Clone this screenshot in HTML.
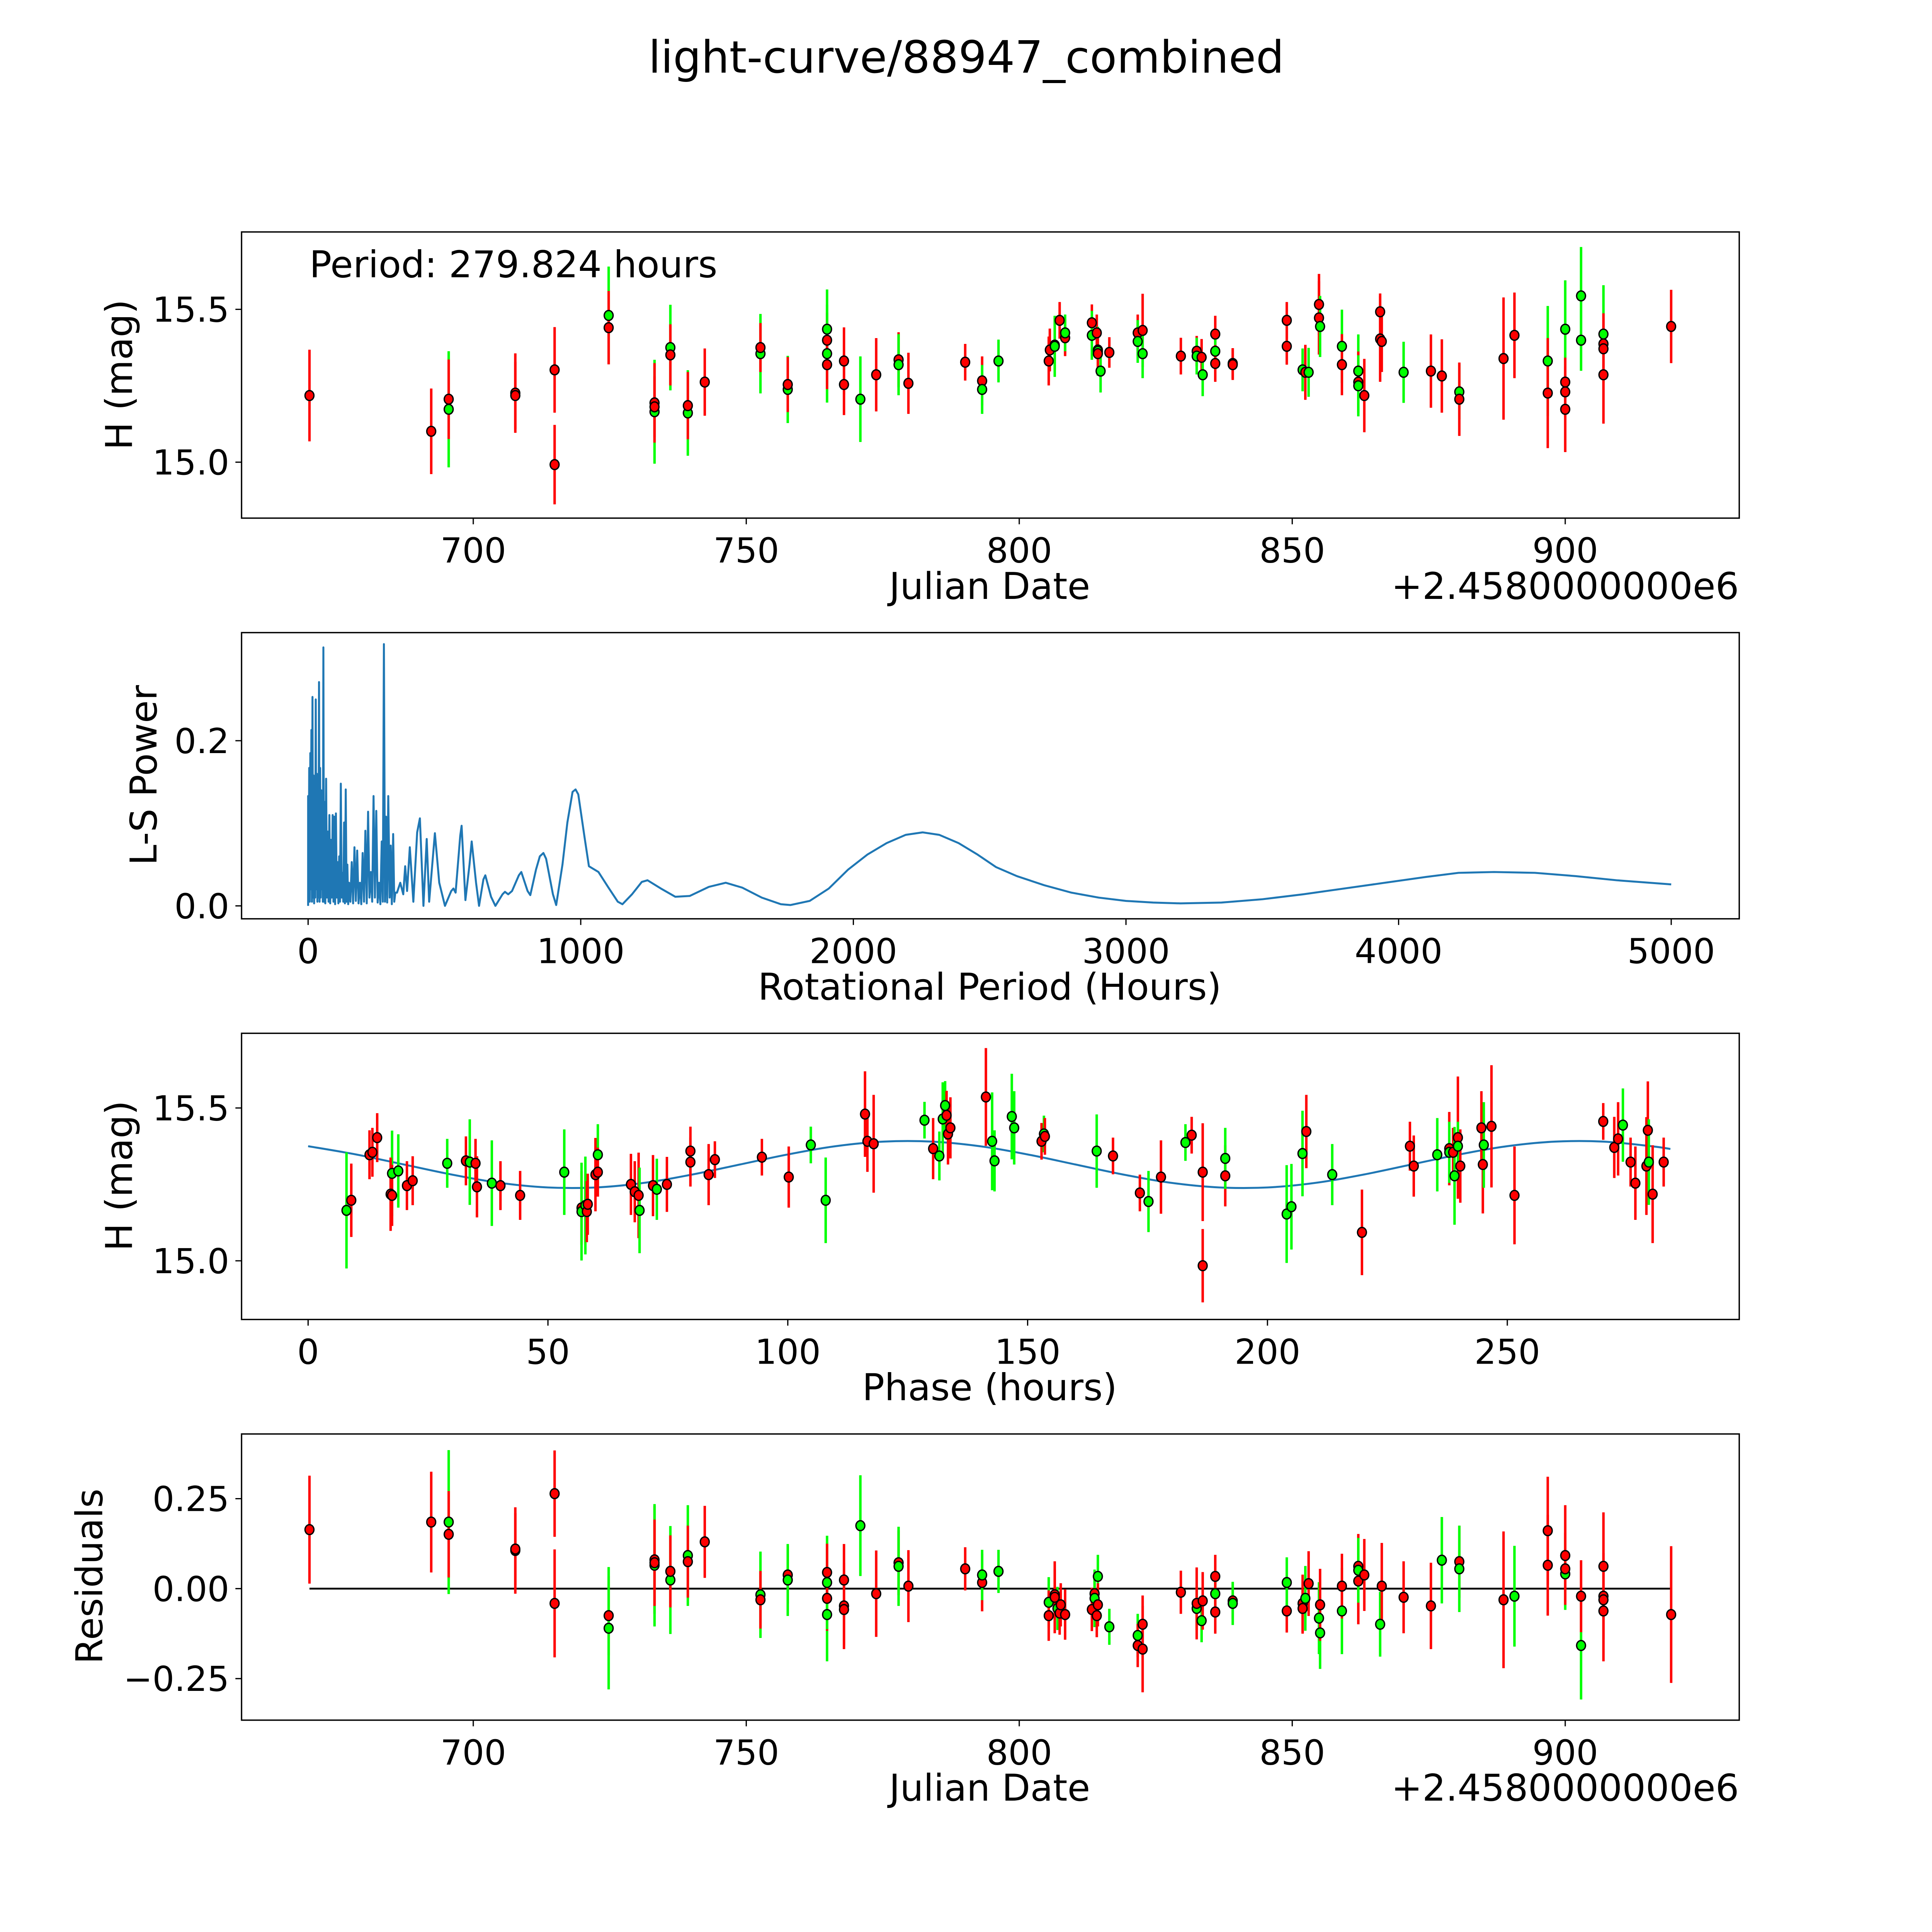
<!DOCTYPE html>
<html><head><meta charset="utf-8"><style>
html,body{margin:0;padding:0;background:#fff;overflow:hidden;width:5400px;height:5400px;}
svg{display:block;font-family:"DejaVu Sans","Liberation Sans",sans-serif;}
</style></head><body>
<svg id="fig" xmlns="http://www.w3.org/2000/svg" width="5400" height="5400" viewBox="0 0 1693 1693">
<rect x="0" y="0" width="1693" height="1693" fill="#fff"/>
<text x="784" y="59" font-size="36" text-anchor="middle">light-curve/88947_combined</text>
<g id="layer"></g>
</svg>
<script>
// ---- Panel 1 data: Julian date offset (+2458000), H mag, error, filter ----
const p1Dates=[670.0,692.3,695.5,695.5,707.7,707.7,714.9,714.9,724.8,724.8,733.2,733.2,733.2,736.1,736.1,739.3,739.3,742.4,752.6,752.6,757.6,757.6,764.8,764.8,764.8,764.8,767.9,767.9,770.9,773.8,777.9,777.9,779.7,790.1,793.2,793.2,796.2,805.4,805.6,806.5,806.5,807.4,808.4,808.4,813.3,813.3,814.2,814.4,814.4,814.4,814.9,816.5,821.7,821.7,822.6,822.6,829.6,832.5,832.5,833.4,833.6,835.9,835.9,835.9,839.1,839.1,849.0,849.0,851.9,852.4,853.0,854.9,854.9,855.1,859.1,859.1,862.1,862.1,862.1,863.2,866.1,866.1,866.4,870.4,875.4,877.4,880.6,880.6,888.7,890.7,896.8,896.8,900.0,900.0,900.0,900.0,902.9,902.9,907.0,907.0,907.0,907.0,919.4];
const p1Mags=[15.218,15.101,15.173,15.206,15.226,15.218,15.302,14.992,15.480,15.440,15.165,15.194,15.181,15.375,15.351,15.161,15.185,15.262,15.355,15.375,15.238,15.254,15.435,15.399,15.355,15.319,15.331,15.254,15.206,15.286,15.335,15.319,15.258,15.327,15.266,15.238,15.331,15.331,15.367,15.383,15.379,15.464,15.407,15.423,15.456,15.415,15.423,15.367,15.363,15.355,15.298,15.359,15.423,15.395,15.431,15.355,15.347,15.363,15.347,15.343,15.286,15.419,15.363,15.323,15.323,15.319,15.464,15.379,15.302,15.294,15.294,15.516,15.472,15.444,15.379,15.319,15.298,15.262,15.250,15.218,15.403,15.492,15.395,15.294,15.298,15.282,15.230,15.206,15.339,15.415,15.331,15.226,15.435,15.262,15.230,15.173,15.399,15.544,15.419,15.387,15.371,15.286,15.444];
const p1Errs=[.15,.14,.19,.13,.13,.11,.14,.13,.16,.12,.17,.13,.10,.14,.10,.14,.11,.11,.13,.08,.11,.09,.13,.09,.16,.08,.11,.10,.14,.12,.09,.10,.10,.06,.08,.08,.07,.08,.07,.08,.10,.06,.06,.06,.06,.08,.06,.06,.08,.06,.07,.05,.06,.07,.12,.08,.06,.05,.06,.06,.07,.06,.06,.06,.05,.05,.06,.06,.07,.09,.08,.10,.12,.10,.12,.10,.12,.10,.10,.12,.14,.06,.10,.10,.12,.12,.09,.12,.20,.14,.18,.18,.16,.08,.08,.14,.10,.16,.16,.10,.10,.16,.12];
const p1Filters="rrgrrrrrgrgrrgrgrrgrgrgrgrrrgrrgrrrggrrrgrrgrgrrgrgrrgrgrrgrgrgrrrrrgrgrrggrgrgrrrrgrrgrrrgrgrrrgggrrrrgr";
// ---- Panel 2 data: Lomb-Scargle periodogram ----
const lsPeriods=[0,2,4,6,8,10,12,14,16,18,20,22,24,26,28,30,32,34,36,38,40,42,44,46,48,50,52,54,56,58,60,63,66,69,72,75,78,81,84,87,90,93,96,99,102,105,108,111,114,117,120,123,126,129,132,135,138,141,144,147,150,155,160,165,170,175,180,185,190,195,200,205,210,215,220,225,230,235,240,245,250,255,260,265,270,274,278,282,286,290,294,299,303,307,312,316,320,326,338,349,356,363,373,386,400,410,423,435,444,465,481,502,525,533,541,558,563,577,592,600,616,627,643,650,671,687,713,722,734,748,773,782,805,815,836,850,863,873,898,910,933,951,970,981,991,1014,1030,1065,1100,1136,1153,1188,1224,1245,1294,1347,1400,1470,1532,1593,1664,1734,1769,1840,1910,1981,2051,2122,2192,2254,2315,2386,2456,2523,2600,2700,2800,2900,3000,3100,3200,3350,3500,3650,3800,3950,4100,4220,4350,4500,4650,4800,5000];
const lsPowers=[0.133,0.010,0.167,0.005,0.185,0.020,0.213,0.005,0.253,0.010,0.158,0.003,0.150,0.010,0.250,0.020,0.160,0.005,0.120,0.010,0.271,0.005,0.167,0.010,0.140,0.020,0.100,0.005,0.313,0.005,0.126,0.003,0.154,0.010,0.090,0.005,0.110,0.003,0.080,0.010,0.110,0.005,0.108,0.002,0.112,0.010,0.053,0.003,0.060,0.005,0.148,0.010,0.040,0.005,0.101,0.003,0.141,0.005,0.050,0.002,0.028,0.005,0.053,0.003,0.071,0.006,0.067,0.003,0.028,0.002,0.064,0.005,0.091,0.003,0.114,0.010,0.041,0.005,0.133,0.010,0.115,0.004,0.028,0.002,0.078,0.005,0.317,0.005,0.108,0.004,0.133,0.010,0.073,0.002,0.087,0.005,0.016,0.016,0.028,0.014,0.048,0.018,0.071,0.005,0.089,0.106,0.000,0.081,0.005,0.088,0.028,0.000,0.018,0.021,0.016,0.085,0.097,0.007,0.050,0.078,0.028,0.000,0.032,0.037,0.011,0.000,0.014,0.017,0.014,0.018,0.037,0.041,0.018,0.013,0.044,0.060,0.064,0.057,0.014,0.001,0.050,0.101,0.138,0.141,0.135,0.083,0.048,0.041,0.023,0.005,0.002,0.014,0.029,0.031,0.021,0.011,0.012,0.023,0.028,0.022,0.010,0.002,0.001,0.006,0.021,0.044,0.062,0.076,0.086,0.089,0.086,0.076,0.062,0.047,0.036,0.025,0.016,0.010,0.006,0.004,0.003,0.004,0.008,0.014,0.021,0.028,0.035,0.040,0.041,0.040,0.036,0.031,0.026,0.020];
// ---- Panel 3 data: phased light curve ----
const phPhases=[8.0,9.0,12.8,13.4,14.4,17.5,17.2,17.5,18.8,20.6,21.8,29.0,32.9,33.7,34.9,35.2,38.3,40.1,44.2,53.4,57.0,57.0,57.8,58.1,58.3,59.9,60.4,60.4,67.3,68.1,68.9,69.1,71.9,72.7,74.8,79.7,79.7,83.5,84.8,94.6,100.2,104.8,107.9,116.1,116.6,117.9,128.5,130.3,131.6,132.3,132.8,133.1,133.4,133.9,141.3,142.6,143.1,146.7,147.2,152.9,153.4,153.6,164.4,167.8,173.4,175.2,177.8,182.9,184.2,186.5,186.5,191.2,191.2,204.0,205.0,207.3,208.1,213.5,219.7,229.7,230.5,235.4,237.9,237.9,238.7,239.0,239.7,239.7,240.2,244.6,244.9,245.1,246.7,251.5,270.0,272.3,273.1,274.1,275.7,276.7,279.0,279.3,279.5,280.3,282.6];
const phMags=[15.165,15.198,15.347,15.355,15.403,15.286,15.218,15.214,15.294,15.246,15.262,15.319,15.327,15.323,15.319,15.242,15.254,15.246,15.214,15.290,15.173,15.161,15.181,15.161,15.185,15.282,15.347,15.290,15.250,15.226,15.214,15.165,15.246,15.234,15.250,15.359,15.323,15.282,15.331,15.339,15.274,15.379,15.198,15.480,15.391,15.383,15.460,15.367,15.343,15.464,15.508,15.476,15.415,15.435,15.536,15.391,15.327,15.472,15.435,15.391,15.415,15.407,15.359,15.343,15.222,15.194,15.274,15.387,15.411,15.290,14.984,15.278,15.335,15.153,15.177,15.351,15.423,15.282,15.093,15.375,15.310,15.347,15.367,15.355,15.355,15.278,15.403,15.375,15.310,15.435,15.315,15.379,15.440,15.214,15.456,15.371,15.399,15.444,15.323,15.254,15.310,15.427,15.323,15.218,15.323];
const phErrs=[.19,.12,.08,.08,.08,.14,.12,.10,.12,.08,.08,.08,.08,.14,.08,.10,.14,.08,.08,.14,.12,.16,.16,.10,.10,.12,.10,.08,.10,.10,.14,.14,.10,.10,.09,.08,.08,.10,.06,.06,.10,.06,.14,.14,.10,.16,.06,.10,.08,.12,.08,.08,.10,.10,.16,.16,.10,.14,.12,.06,.06,.06,.12,.06,.06,.10,.12,.06,.06,.16,.12,.10,.10,.16,.14,.14,.12,.10,.14,.08,.10,.12,.12,.10,.08,.16,.20,.08,.12,.12,.16,.14,.20,.16,.06,.10,.12,.12,.08,.12,.16,.16,.14,.16,.08];
const phFilters="grrrrgrrgrrgrgrrgrrgrggrrrgrrrrgrgrrrrrrrggrrrgrgggrrrrggggrgrgrrgrgrrrrggggrgrrrgrgrgrgrrrgrrrrrgrrrrgrrgr";
// model curve sampled every 10 h
const modelPhases=[0,10,20,30,40,50,60,70,80,90,100,110,120,130,140,150,160,170,180,190,200,210,220,230,240,250,260,270,280,284];
const modelMags=[15.375,15.348,15.315,15.282,15.255,15.240,15.240,15.255,15.282,15.315,15.348,15.375,15.390,15.390,15.375,15.348,15.315,15.282,15.255,15.240,15.240,15.255,15.282,15.315,15.348,15.375,15.390,15.390,15.375,15.366];
// ---- Panel 4 data: residuals ----
const rDates=[670.0,692.3,695.5,695.5,707.7,707.7,714.9,714.9,724.8,724.8,733.2,733.2,733.2,736.1,736.1,739.3,739.3,742.4,752.6,752.6,757.6,757.6,764.8,764.8,764.8,764.8,767.9,767.9,767.9,770.9,773.8,777.9,777.9,779.7,790.1,793.2,793.2,796.2,805.4,805.4,806.5,806.5,807.0,807.4,807.6,808.4,813.3,813.8,813.8,814.2,814.4,814.4,816.5,821.7,821.7,822.6,822.6,829.6,832.5,832.5,833.4,833.6,835.9,835.9,835.9,839.1,839.1,849.0,849.0,851.9,852.4,851.9,853.0,854.9,855.1,855.1,859.1,859.1,862.1,862.1,862.1,863.2,866.1,866.4,870.4,875.4,877.4,880.6,880.6,888.7,890.7,896.8,896.8,900.0,900.0,900.0,902.9,902.9,907.0,907.0,907.0,907.0,919.4];
const rVals=[0.164,0.185,0.185,0.151,0.106,0.110,0.264,-0.041,-0.075,-0.110,0.080,0.065,0.072,0.024,0.048,0.092,0.075,0.130,-0.017,-0.031,0.038,0.024,-0.072,-0.027,0.017,0.045,-0.048,-0.058,0.024,0.175,-0.014,0.072,0.062,0.007,0.055,0.017,0.038,0.048,-0.038,-0.075,-0.017,-0.024,-0.055,-0.068,-0.045,-0.072,-0.058,-0.014,-0.027,-0.075,0.034,-0.045,-0.106,-0.130,-0.158,-0.168,-0.099,-0.010,-0.055,-0.041,-0.089,-0.034,-0.014,0.034,-0.065,-0.034,-0.041,-0.062,0.017,-0.041,-0.027,-0.055,0.014,-0.082,-0.123,-0.045,-0.062,0.007,0.062,0.021,0.051,0.038,-0.099,0.007,-0.024,-0.048,0.079,0.075,0.055,-0.031,-0.021,0.161,0.065,0.092,0.041,0.055,-0.158,-0.021,0.062,-0.021,-0.031,-0.062,-0.072];
const rErrs=[.15,.14,.20,.12,.12,.10,.12,.15,.11,.17,.15,.17,.12,.15,.10,.14,.10,.10,.12,.08,.08,.10,.13,.09,.13,.08,.12,.10,.10,.14,.12,.09,.11,.10,.06,.08,.07,.06,.07,.07,.07,.10,.06,.06,.06,.07,.06,.06,.08,.06,.06,.06,.05,.06,.06,.12,.08,.06,.06,.10,.06,.08,.06,.06,.06,.05,.06,.06,.07,.08,.09,.07,.09,.10,.10,.10,.12,.09,.09,.12,.09,.10,.09,.12,.10,.12,.12,.10,.12,.19,.14,.15,.14,.14,.10,.10,.15,.10,.15,.12,.10,.14,.19];
const rFilters="rrgrrrrrrgrgrgrgrrgrrggrgrrrrgrrgrrrgggrrrgrrrrrgrgrggrrrrgrgrgrrrgrgrgrrggrgrrrgrgrrrgrgrgrrrgrgrrrr";
const xTicksJD=[700,750,800,850,900];
const xTicksLS=[0,1000,2000,3000,4000,5000];
const xTicksPh=[0,50,100,150,200,250];

const NS="http://www.w3.org/2000/svg";
const layer=document.getElementById('layer');
function mk(tag,attrs,parent){const e=document.createElementNS(NS,tag);for(const k in attrs)e.setAttribute(k,attrs[k]);(parent||layer).appendChild(e);return e;}
const L=196,R=1411.2;
const panels=[{t:188.2,b:420.4},{t:513.3,b:745.5},{t:838.4,b:1070.6},{t:1163.5,b:1395.7}];
const xJD=d=>384+(d-700)*4.43;
const xLS=p=>250+p*0.2212;
const xPh=p=>250+p*3.892;
const yMag1=m=>251-(m-15.5)*248;
const yMag3=m=>899-(m-15.5)*248;
const yLS=v=>735-v*670;
const yRes=v=>1289-v*292;
const COL={g:'#00ff00',r:'#ff0000'};

function frame(i,name){
  const p=panels[i];
  const r=mk('rect',{x:L,y:p.t,width:R-L,height:p.b-p.t,fill:'none',stroke:'#000','stroke-width':1.1});
  
  
}
function xticks(i,ticks,fx,name){
  const p=panels[i];
  ticks.forEach(v=>{
    const x=fx(v);
    const l=mk('line',{x1:x,x2:x,y1:p.b,y2:p.b+5,stroke:'#000','stroke-width':1});
    
    
    const t=mk('text',{x:x,y:p.b+36,'font-size':28,'text-anchor':'middle'});
    
    
    t.textContent=String(v);
  });
}
function yticks(i,vals,labels,fy,name){
  vals.forEach((v,k)=>{
    const y=fy(v);
    const l=mk('line',{x1:L-5,x2:L,y1:y,y2:y,stroke:'#000','stroke-width':1});
    
    
    const t=mk('text',{x:L-10,y:y+10,'font-size':28,'text-anchor':'end'});
    
    
    t.textContent=labels[k];
  });
}
function label(txt,x,y,rot,name,anchor){
  const t=mk('text',{x:x,y:y,'font-size':30,'text-anchor':anchor||'middle'});
  if(rot)t.setAttribute('transform','rotate(-90 '+x+' '+y+')');
  
  
  t.textContent=txt;
}
function points(xs,ys,es,fs,fx,fy,name){
  const g=mk('g',{});
  
  
  xs.forEach((xv,k)=>{
    const x=fx(xv),c=COL[fs[k]]||'#ff0000';
    const l=mk('line',{x1:x,x2:x,y1:fy(ys[k]-es[k]),y2:fy(ys[k]+es[k]),stroke:c,'stroke-width':2},g);
    
    
  });
  xs.forEach((xv,k)=>{
    const c=COL[fs[k]]||'#ff0000';
    const d=mk('ellipse',{cx:fx(xv),cy:fy(ys[k]),rx:3.6,ry:4.0,fill:c,stroke:'#000','stroke-width':1.1},g);
    
    
  });
}

// Panel 1
frame(0,'light-curve-panel');
xticks(0,xTicksJD,xJD,'light-curve');
yticks(0,[15.0,15.5],['15.0','15.5'],yMag1,'light-curve');
points(p1Dates,p1Mags,p1Errs,p1Filters,xJD,yMag1,'light-curve');
label('Julian Date',803,486,false,'light-curve-x-axis-title');
label('+2.4580000000e6',1411,486,false,'light-curve-x-offset','end');
label('H (mag)',107,304,true,'light-curve-y-axis-title');
{const t=mk('text',{x:251,y:225,'font-size':30});t.textContent='Period: 279.824 hours';}

// Panel 2
frame(1,'periodogram-panel');
xticks(1,xTicksLS,xLS,'periodogram');
yticks(1,[0.0,0.2],['0.0','0.2'],yLS,'periodogram');
{
  let d='M'+xLS(0).toFixed(2)+' '+yLS(0).toFixed(2);
  lsPeriods.forEach((p,k)=>{d+='L'+xLS(p).toFixed(2)+' '+yLS(lsPowers[k]).toFixed(2);});
  const path=mk('path',{d:d,fill:'none',stroke:'#1f77b4','stroke-width':1.6,'stroke-linejoin':'round'});
  
  
}
label('Rotational Period (Hours)',803,811,false,'periodogram-x-axis-title');
label('L-S Power',127,629,true,'periodogram-y-axis-title');

// Panel 3
frame(2,'phase-panel');
xticks(2,xTicksPh,xPh,'phase');
yticks(2,[15.0,15.5],['15.0','15.5'],yMag3,'phase');
{
  const px=modelPhases.map(xPh),py=modelMags.map(yMag3);
  let d='M'+px[0]+' '+py[0];
  for(let k=0;k<px.length-1;k++){
    const x0=px[Math.max(0,k-1)],y0=py[Math.max(0,k-1)],x1=px[k],y1=py[k],x2=px[k+1],y2=py[k+1],x3=px[Math.min(px.length-1,k+2)],y3=py[Math.min(px.length-1,k+2)];
    d+='C'+(x1+(x2-x0)/6).toFixed(2)+' '+(y1+(y2-y0)/6).toFixed(2)+' '+(x2-(x3-x1)/6).toFixed(2)+' '+(y2-(y3-y1)/6).toFixed(2)+' '+x2.toFixed(2)+' '+y2.toFixed(2);
  }
  const path=mk('path',{d:d,fill:'none',stroke:'#1f77b4','stroke-width':1.6});
  
  
}
points(phPhases,phMags,phErrs,phFilters,xPh,yMag3,'phase');
label('Phase (hours)',803,1136,false,'phase-x-axis-title');
label('H (mag)',107,954,true,'phase-y-axis-title');

// Panel 4
frame(3,'residuals-panel');
xticks(3,xTicksJD,xJD,'residuals');
yticks(3,[0.25,0,-0.25],['0.25','0.00','\u22120.25'],yRes,'residuals');
{
  const l=mk('line',{x1:xJD(670),x2:xJD(919.4),y1:yRes(0),y2:yRes(0),stroke:'#000','stroke-width':1.5});
  
  
}
points(rDates,rVals,rErrs,rFilters,xJD,yRes,'residuals');
label('Julian Date',803,1461,false,'residuals-x-axis-title');
label('+2.4580000000e6',1411,1461,false,'residuals-x-offset','end');
label('Residuals',83,1279,true,'residuals-y-axis-title');
</script>
</body></html>
